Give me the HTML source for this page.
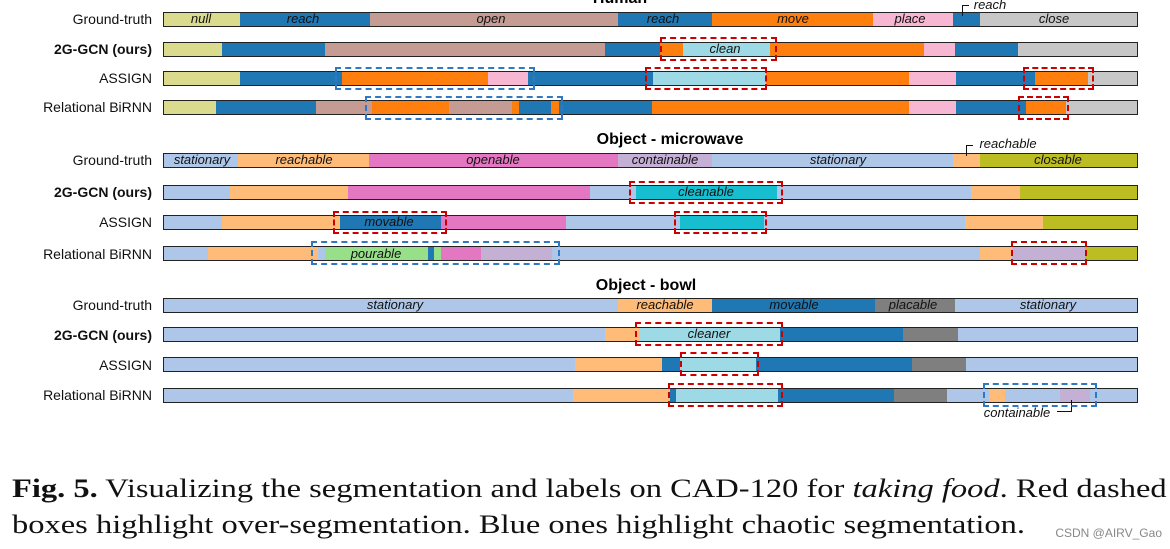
<!DOCTYPE html>
<html><head><meta charset="utf-8"><style>
body{margin:0;width:1170px;height:549px;background:#fff;position:relative;overflow:hidden;font-family:"Liberation Sans",sans-serif}
.bar{position:absolute;left:163px;width:975px;height:15px;border:1px solid #222;box-sizing:border-box;overflow:hidden}
.seg{position:absolute;top:0;height:100%}
.rl{position:absolute;right:1018px;font-size:14px;color:#111;white-space:nowrap}
.t{position:absolute;font-size:13px;font-style:italic;color:#111;white-space:nowrap;transform:translateX(-50%)}
.h{position:absolute;font-size:16px;font-weight:bold;transform:translateX(-50%)}
.bx{position:absolute;border:2.5px dashed #c00;box-sizing:border-box}
.bb{position:absolute;border:2.5px dashed #2f78c4;box-sizing:border-box}
.cap{position:absolute;left:12px;font-family:"Liberation Serif",serif;font-size:26px;color:#111;white-space:nowrap;transform:scaleX(1.25);transform-origin:0 0}
</style></head><body>
<div class="h" style="left:620px;top:-10px">Human</div>
<div class="h" style="left:670px;top:131px">Object - microwave</div>
<div class="h" style="left:646px;top:277px">Object - bowl</div>

<div class="rl" style="top:11px">Ground-truth</div>
<div class="rl" style="top:41px;font-weight:bold">2G-GCN (ours)</div>
<div class="rl" style="top:70px">ASSIGN</div>
<div class="rl" style="top:99px">Relational BiRNN</div>
<div class="rl" style="top:152px">Ground-truth</div>
<div class="rl" style="top:184px;font-weight:bold">2G-GCN (ours)</div>
<div class="rl" style="top:214px">ASSIGN</div>
<div class="rl" style="top:246px">Relational BiRNN</div>
<div class="rl" style="top:297px">Ground-truth</div>
<div class="rl" style="top:327px;font-weight:bold">2G-GCN (ours)</div>
<div class="rl" style="top:357px">ASSIGN</div>
<div class="rl" style="top:387px">Relational BiRNN</div>

<div id="bars"></div>

<div class="t" style="left:201px;top:11px">null</div>
<div class="t" style="left:303px;top:11px">reach</div>
<div class="t" style="left:491px;top:11px">open</div>
<div class="t" style="left:663px;top:11px">reach</div>
<div class="t" style="left:793px;top:11px">move</div>
<div class="t" style="left:910px;top:11px">place</div>
<div class="t" style="left:1054px;top:11px">close</div>
<div class="t" style="left:990px;top:-3px">reach</div>
<div style="position:absolute;left:962px;top:5px;width:6px;height:10px;border-left:1px solid #111;border-top:1px solid #111"></div>
<div class="t" style="left:725px;top:41px">clean</div>

<div class="t" style="left:202px;top:152px">stationary</div>
<div class="t" style="left:304px;top:152px">reachable</div>
<div class="t" style="left:493px;top:152px">openable</div>
<div class="t" style="left:665px;top:152px">containable</div>
<div class="t" style="left:838px;top:152px">stationary</div>
<div class="t" style="left:1058px;top:152px">closable</div>
<div class="t" style="left:1008px;top:136px">reachable</div>
<div style="position:absolute;left:966px;top:145px;width:6px;height:10px;border-left:1px solid #111;border-top:1px solid #111"></div>
<div class="t" style="left:706px;top:184px">cleanable</div>
<div class="t" style="left:389px;top:214px">movable</div>
<div class="t" style="left:376px;top:246px">pourable</div>

<div class="t" style="left:395px;top:297px">stationary</div>
<div class="t" style="left:665px;top:297px">reachable</div>
<div class="t" style="left:794px;top:297px">movable</div>
<div class="t" style="left:913px;top:297px">placable</div>
<div class="t" style="left:1048px;top:297px">stationary</div>
<div class="t" style="left:709px;top:326px">cleaner</div>
<div class="t" style="left:1017px;top:405px">containable</div>
<div style="position:absolute;left:1057px;top:400px;width:14px;height:11px;border-right:1px solid #111;border-bottom:1px solid #111"></div>

<div class="bx" style="left:660px;top:37px;width:117px;height:24px"></div>
<div class="bb" style="left:335px;top:67px;width:200px;height:23px"></div>
<div class="bx" style="left:645px;top:67px;width:122px;height:23px"></div>
<div class="bx" style="left:1023px;top:67px;width:71px;height:23px"></div>
<div class="bb" style="left:365px;top:96px;width:198px;height:24px"></div>
<div class="bx" style="left:1018px;top:96px;width:51px;height:24px"></div>
<div class="bx" style="left:629px;top:181px;width:154px;height:23px"></div>
<div class="bx" style="left:333px;top:211px;width:114px;height:23px"></div>
<div class="bx" style="left:674px;top:211px;width:93px;height:23px"></div>
<div class="bb" style="left:311px;top:241px;width:249px;height:24px"></div>
<div class="bx" style="left:1011px;top:241px;width:76px;height:24px"></div>
<div class="bx" style="left:635px;top:322px;width:148px;height:24px"></div>
<div class="bx" style="left:680px;top:352px;width:79px;height:24px"></div>
<div class="bx" style="left:668px;top:383px;width:115px;height:24px"></div>
<div class="bb" style="left:983px;top:383px;width:114px;height:24px"></div>

<div class="cap" style="top:474px"><b>Fig. 5.</b> Visualizing the segmentation and labels on CAD-120 for <i>taking food</i>. Red dashed</div>
<div class="cap" style="top:510px">boxes highlight over-segmentation. Blue ones highlight chaotic segmentation.</div>
<div style="position:absolute;right:8px;top:526px;font-size:12px;color:#888">CSDN @AIRV_Gao</div>

<script>
var C={n:'#dbdb8d',r:'#1f77b4',o:'#c49c94',m:'#ff7f0e',p:'#f7b6d2',c:'#c7c7c7',l:'#9edae5',s:'#aec7e8',a:'#ffbb78',e:'#e377c2',t:'#c5b0d5',k:'#bcbd22',y:'#17becf',g:'#98df8a',q:'#7f7f7f'};
var rows=[
[12,'n163r240o370r618m712p873r953c980'],
[42,'n163r222o325r605m660l683m770p924r955c1018'],
[71,'n163r240m342p488r528l653m766p909r956m1035c1088'],
[100,'n163r216o316m372o449m512r519m551r559m652p909r956m1026c1066'],
[153,'s163a238e369t618s712a953k980'],
[185,'s163a230e348s590y636s777a971k1020'],
[215,'s163a222r340e441s566y680s764a965k1043'],
[246,'s163a208s318g325r428g434e441t481s552a980t1012k1085'],
[298,'s163a618r712q875s955'],
[327,'s163a605l640r780q903s958'],
[357,'s163a575r662l680r756q912s966'],
[388,'s163a573r670l676r778q894s947a989s1005t1060s1090']];
var h='';
rows.forEach(function(R){
  var m=R[1].match(/[a-z]\d+/g),s='';
  for(var i=0;i<m.length;i++){var x=+m[i].slice(1),nx=i+1<m.length?+m[i+1].slice(1):1138;
    s+='<div class="seg" style="left:'+(x-164)+'px;width:'+(nx-x)+'px;background:'+C[m[i][0]]+'"></div>';}
  h+='<div class="bar" style="top:'+R[0]+'px">'+s+'</div>';});
document.getElementById('bars').innerHTML=h;
</script>
</body></html>
